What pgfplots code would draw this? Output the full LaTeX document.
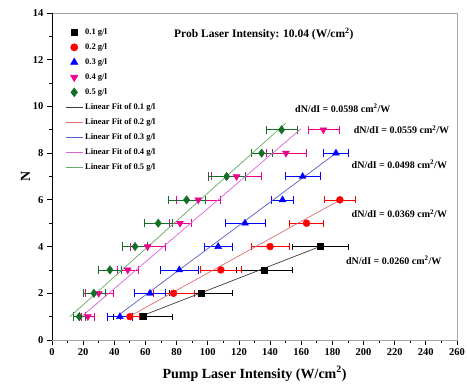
\documentclass[border=0pt]{standalone}
\usepackage{pgfplots}
\pgfplotsset{compat=1.18}
\usepackage{pgfplotstable}
\usepackage{fontspec}
\setmainfont{Liberation Serif}
\definecolor{dgreen}{RGB}{20,110,40}
\definecolor{fitk}{RGB}{60,60,60}
\definecolor{fitr}{RGB}{225,110,110}
\definecolor{fitb}{RGB}{90,90,200}
\definecolor{fitm}{RGB}{220,100,220}
\definecolor{fitg}{RGB}{100,170,100}
\pgfplotstableread{
x N ex
58.4 1 19
95.5 2 20
136.5 3 18
172 4 18
}\dA
\pgfplotstableread{
x N ex
50 1 6
78 2 13
108.4 3 13
140 4 12
163.4 5 11
184.8 6 10
}\dB
\pgfplotstableread{
x N ex
43.6 1 8
62.9 2 10
81.7 3 12
106.7 4 9
123.9 5 13
148 6 7
160.9 7 11
182.3 8 8
}\dC
\pgfplotstableread{
x N ex
23 1 4
30 2 9
48.6 3 7
61.4 4 11
82.2 5 7
93.9 6 14
118.5 7 16
150.2 8 13
174.2 9 10
}\dD
\pgfplotstableread{
x N ex
17.5 1 4
26.9 2 7
37.2 3 7.5
53.3 4 8
68.2 5 9
86.4 6 12
112.1 7 12
134.6 8 7
147.4 9 10
}\dE
\begin{document}
\begin{tikzpicture}
\fill[white] (-60pt,-60pt) rectangle (420pt,345pt);
\begin{axis}[
  scale only axis, width=405pt, height=327pt,
  xmin=0, xmax=260, ymin=0, ymax=14,
  xtick={0,20,...,260}, ytick={0,2,...,14},
  minor x tick num=1, minor y tick num=1,
  tick align=outside, tick pos=left,
  major tick length=5pt, minor tick length=3pt,
  axis line style={black!35},
  every tick/.style={black, line width=0.8pt},
  /pgf/number format/assume math mode=true,
  ticklabel style={font=\fontsize{10.5}{12}\selectfont\bfseries},
  xlabel={Pump Laser Intensity (W/cm$^{\mathbf 2}$)},
  ylabel={N},
  label style={font=\fontsize{14}{16}\selectfont\bfseries},
  xlabel style={yshift=-4pt},
  ylabel style={yshift=-4pt},
  legend style={draw=none, fill=none, at={(rel axis cs:0.025,0.965)}, anchor=north west,
    font=\fontsize{8.5}{9}\selectfont\bfseries, row sep=3.6pt},
  legend cell align=left,
  legend image post style={line width=0.8pt},
  error bars/error bar style={line width=0.6pt},
]
\addplot[only marks, mark=square*, mark size=3pt, black,
  error bars/.cd, x dir=both, x explicit] table[x=x, y=N, x error=ex]{\dA};
\addlegendentry{0.1 g/l}
\addplot[only marks, mark=*, mark size=3.5pt, red,
  error bars/.cd, x dir=both, x explicit] table[x=x, y=N, x error=ex]{\dB};
\addlegendentry{0.2 g/l}
\addplot[only marks, mark=triangle*, mark size=4pt, blue,
  error bars/.cd, x dir=both, x explicit] table[x=x, y=N, x error=ex]{\dC};
\addlegendentry{0.3 g/l}
\addplot[only marks, mark=triangle*, mark options={rotate=180}, mark size=4pt, magenta,
  error bars/.cd, x dir=both, x explicit] table[x=x, y=N, x error=ex]{\dD};
\addlegendentry{0.4 g/l}
\addplot[only marks, mark=diamond*, mark size=4.2pt, dgreen,
  error bars/.cd, x dir=both, x explicit] table[x=x, y=N, x error=ex]{\dE};
\addlegendentry{0.5 g/l}
\addplot[fitk, line width=0.7pt, no marks] coordinates {(58.4,1.05) (172,4.0)};
\addlegendentry{Linear Fit of 0.1 g/l}
\addplot[fitr, line width=0.7pt, no marks] coordinates {(50,1.02) (185,6.0)};
\addlegendentry{Linear Fit of 0.2 g/l}
\addplot[fitb, line width=0.7pt, no marks] coordinates {(43.6,1.11) (182.3,8.0)};
\addlegendentry{Linear Fit of 0.3 g/l}
\addplot[fitm, line width=0.7pt, no marks] coordinates {(19,1) (160,9.05)};
\addlegendentry{Linear Fit of 0.4 g/l}
\addplot[fitg, line width=0.7pt, no marks] coordinates {(11.5,1) (150,9.28)};
\addlegendentry{Linear Fit of 0.5 g/l}
\draw[black, line width=0.8pt] (rel axis cs:0,1) -- (rel axis cs:0,0) -- (rel axis cs:1,0);
\node[font=\fontsize{11.5}{13}\selectfont\bfseries] at (axis cs:136,13.1) {Prob Laser Intensity: 10.04 (W/cm$^{\mathbf 2}$)};
\node[font=\fontsize{10}{11}\selectfont\bfseries] at (axis cs:186.7,9.93) {dN/dI = 0.0598 cm$^{\mathbf 2}$/W};
\node[font=\fontsize{10}{11}\selectfont\bfseries] at (axis cs:224.4,9.0) {dN/dI = 0.0559 cm$^{\mathbf 2}$/W};
\node[font=\fontsize{10}{11}\selectfont\bfseries] at (axis cs:223,7.53) {dN/dI = 0.0498 cm$^{\mathbf 2}$/W};
\node[font=\fontsize{10}{11}\selectfont\bfseries] at (axis cs:223,5.4) {dN/dI = 0.0369 cm$^{\mathbf 2}$/W};
\node[font=\fontsize{10}{11}\selectfont\bfseries] at (axis cs:219.4,3.42) {dN/dI = 0.0260 cm$^{\mathbf 2}$/W};
\coordinate (sw) at (rel axis cs:0,0);
\coordinate (ne) at (rel axis cs:1,1);
\end{axis}
\pgfresetboundingbox
\path ([shift={(-52pt,-52pt)}]sw) rectangle ([shift={(10pt,13pt)}]ne);
\end{tikzpicture}
\end{document}
